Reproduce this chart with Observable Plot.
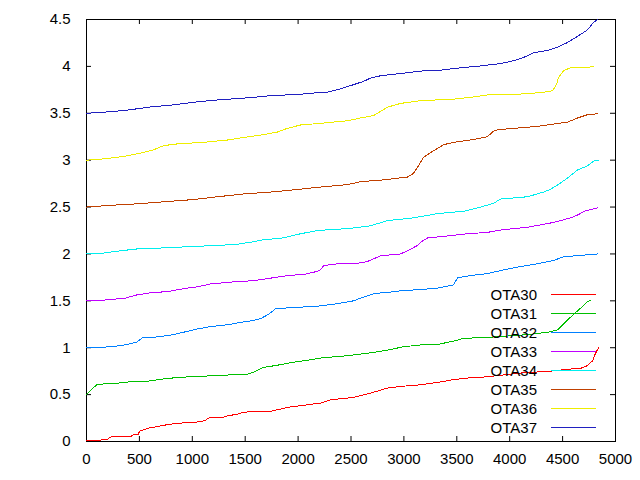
<!DOCTYPE html>
<html>
<head>
<meta charset="utf-8">
<script src="https://cdn.jsdelivr.net/npm/d3@7"></script>
<script src="https://cdn.jsdelivr.net/npm/@observablehq/plot@0.6"></script>
<style>
  html, body { margin: 0; padding: 0; background: #fff; }
  #chart { width: 640px; height: 480px; }
</style>
</head>
<body>
<div id="chart"></div>
<script>
const seriesNames = ["OTA30", "OTA31", "OTA32", "OTA33", "OTA34", "OTA35", "OTA36", "OTA37"];
const seriesColors = ["#ff0000", "#00c000", "#0080ff", "#c000ff", "#00eeee", "#c04000", "#eeee00", "#2020c0"];
const xTicks = [0, 500, 1000, 1500, 2000, 2500, 3000, 3500, 4000, 4500, 5000];
const yTicks = [0, 0.5, 1, 1.5, 2, 2.5, 3, 3.5, 4, 4.5];

const ota30X = [0,130,140,200,215,240,420,440,491,500,540,600,671,766,860,1040,1060,1120,1150,1300,1340,1420,1480,1560,1750,1830,1900,2080,2212,2306,2524,2713,2845,2996,3157,3318,3469,3630,3790,3942,4102,4386,4547,4670,4736,4783,4811,4840];
const ota30Y = [0.01,0.01,0.02,0.025,0.04,0.053,0.055,0.07,0.075,0.11,0.125,0.146,0.16,0.18,0.195,0.205,0.215,0.22,0.25,0.26,0.275,0.29,0.31,0.32,0.325,0.345,0.365,0.39,0.41,0.445,0.47,0.525,0.57,0.59,0.605,0.63,0.66,0.68,0.69,0.71,0.73,0.75,0.77,0.78,0.81,0.86,0.94,1.0];

const ota31X = [0,100,274,444,590,747,889,1078,1267,1531,1578,1673,1787,1957,2165,2212,2467,2684,2845,2996,3157,3318,3469,3564,3790,3980,4169,4358,4452,4509,4603,4698,4736,4764];
const ota31Y = [0.5,0.61,0.62,0.64,0.645,0.67,0.685,0.695,0.705,0.72,0.74,0.79,0.81,0.845,0.88,0.89,0.915,0.945,0.975,1.01,1.03,1.035,1.07,1.10,1.11,1.125,1.14,1.165,1.19,1.255,1.355,1.45,1.495,1.5];

const ota32X = [0,246,388,473,529,671,822,955,1049,1172,1333,1456,1578,1645,1720,1787,1957,2165,2373,2524,2618,2731,2845,2996,3157,3318,3469,3507,3630,3790,3942,4102,4263,4414,4509,4670,4830];
const ota32Y = [1.0,1.01,1.035,1.06,1.105,1.115,1.14,1.175,1.2,1.225,1.245,1.27,1.29,1.31,1.355,1.415,1.43,1.44,1.47,1.5,1.54,1.58,1.59,1.61,1.62,1.635,1.67,1.745,1.77,1.79,1.83,1.865,1.895,1.93,1.97,1.985,2.0];

const ota33X = [0,198,369,482,605,775,917,1049,1172,1361,1578,1758,1910,2070,2184,2212,2240,2373,2562,2656,2779,2968,3034,3129,3176,3223,3441,3601,3790,3913,4169,4386,4480,4575,4641,4717,4830];
const ota33Y = [1.5,1.51,1.53,1.565,1.585,1.6,1.63,1.65,1.68,1.70,1.715,1.745,1.77,1.785,1.815,1.83,1.875,1.895,1.9,1.92,1.98,2.0,2.035,2.09,2.14,2.17,2.195,2.215,2.23,2.255,2.285,2.33,2.355,2.385,2.415,2.46,2.49];

const ota34X = [0,132,293,491,747,1002,1238,1437,1578,1663,1853,2023,2184,2467,2684,2845,3091,3318,3564,3724,3847,3913,4169,4320,4386,4480,4575,4641,4736,4792,4840];
const ota34Y = [2.0,2.005,2.03,2.055,2.065,2.08,2.09,2.105,2.13,2.15,2.17,2.215,2.25,2.27,2.30,2.355,2.385,2.43,2.455,2.50,2.54,2.585,2.61,2.66,2.69,2.755,2.835,2.895,2.94,2.99,3.0];

const ota35X = [0,246,491,775,1012,1200,1484,1739,1976,2184,2278,2467,2590,2807,3034,3091,3138,3185,3280,3375,3469,3630,3790,3847,3885,4102,4263,4414,4547,4641,4736,4830];
const ota35Y = [2.5,2.52,2.535,2.56,2.58,2.605,2.64,2.66,2.685,2.71,2.72,2.74,2.77,2.79,2.82,2.86,2.94,3.03,3.10,3.165,3.19,3.215,3.25,3.31,3.325,3.345,3.36,3.385,3.405,3.45,3.485,3.495];

const ota36X = [0,180,350,510,633,728,870,1106,1333,1503,1663,1805,1900,2023,2184,2278,2467,2590,2713,2779,2845,2968,3157,3469,3630,3790,4102,4291,4405,4443,4461,4509,4575,4736,4792];
const ota36Y = [3.0,3.015,3.04,3.075,3.11,3.155,3.175,3.19,3.215,3.245,3.27,3.30,3.34,3.375,3.39,3.40,3.42,3.45,3.475,3.52,3.565,3.605,3.635,3.65,3.67,3.695,3.705,3.72,3.74,3.81,3.88,3.955,3.985,3.99,4.0];

const ota37X = [0,208,397,586,822,1030,1267,1531,1758,1995,2184,2278,2401,2524,2618,2684,2779,2940,3157,3346,3535,3724,3913,4036,4131,4225,4358,4452,4547,4641,4736,4792,4830];
const ota37Y = [3.5,3.515,3.535,3.565,3.59,3.62,3.645,3.665,3.69,3.70,3.72,3.725,3.76,3.805,3.84,3.875,3.90,3.92,3.95,3.96,3.985,4.005,4.03,4.06,4.095,4.145,4.17,4.205,4.255,4.32,4.39,4.47,4.5];

const seriesX = [ota30X, ota31X, ota32X, ota33X, ota34X, ota35X, ota36X, ota37X];
const seriesY = [ota30Y, ota31Y, ota32Y, ota33Y, ota34Y, ota35Y, ota36Y, ota37Y];

const rows = seriesNames.flatMap((name, i) =>
  seriesX[i].map((x, j) => ({series: name, x, y: seriesY[i][j]}))
);

const W = 640, H = 480;
const mL = 86, mR = 25, mT = 19, mB = 39;
const innerW = W - mL - mR, innerH = H - mT - mB;
const tickLen = 5;
const font = "'Liberation Sans', Arial, sans-serif";
const fmt = d => String(d);

const lineMarks = seriesNames.map((name, i) =>
  Plot.line(rows.filter(r => r.series === name), {
    x: "x", y: "y", stroke: seriesColors[i], strokeWidth: 1, shapeRendering: "crispEdges"
  })
);

const svg = Plot.plot({
  width: W, height: H,
  marginLeft: mL, marginRight: mR, marginTop: mT, marginBottom: mB,
  style: {fontFamily: font, fontSize: "15px", color: "#000", background: "#fff"},
  x: {domain: [0, 5000]},
  y: {domain: [0, 4.5]},
  marks: [
    Plot.axisX({ticks: xTicks, tickFormat: fmt, tickSize: 0, tickPadding: 12, fontSize: 15, label: null}),
    Plot.axisY({ticks: yTicks, tickFormat: fmt, tickSize: 0, tickPadding: 16, fontSize: 15, label: null}),
    Plot.frame({stroke: "#000"}),
    Plot.tickX(xTicks, {x: d => d, insetTop: innerH - tickLen, stroke: "#000"}),
    Plot.tickX(xTicks, {x: d => d, insetBottom: innerH - tickLen, stroke: "#000"}),
    Plot.tickY(yTicks, {y: d => d, insetRight: innerW - tickLen, stroke: "#000"}),
    Plot.tickY(yTicks, {y: d => d, insetLeft: innerW - tickLen, stroke: "#000"}),
    ...lineMarks
  ]
});

// Key (legend) inside the plot, drawn on top like gnuplot
const key = d3.select(svg).append("g").attr("font-family", font).attr("font-size", 15);
seriesNames.forEach((name, i) => {
  const yy = 294.5 + i * 19;
  key.append("text").attr("x", 537).attr("y", yy).attr("dy", "0.35em")
    .attr("text-anchor", "end").attr("fill", "#000").text(name);
  key.append("rect").attr("x", 551).attr("y", yy - 0.5).attr("width", 45).attr("height", 1)
    .attr("fill", seriesColors[i]).attr("shape-rendering", "crispEdges");
});

document.getElementById("chart").appendChild(svg);
</script>
</body>
</html>
